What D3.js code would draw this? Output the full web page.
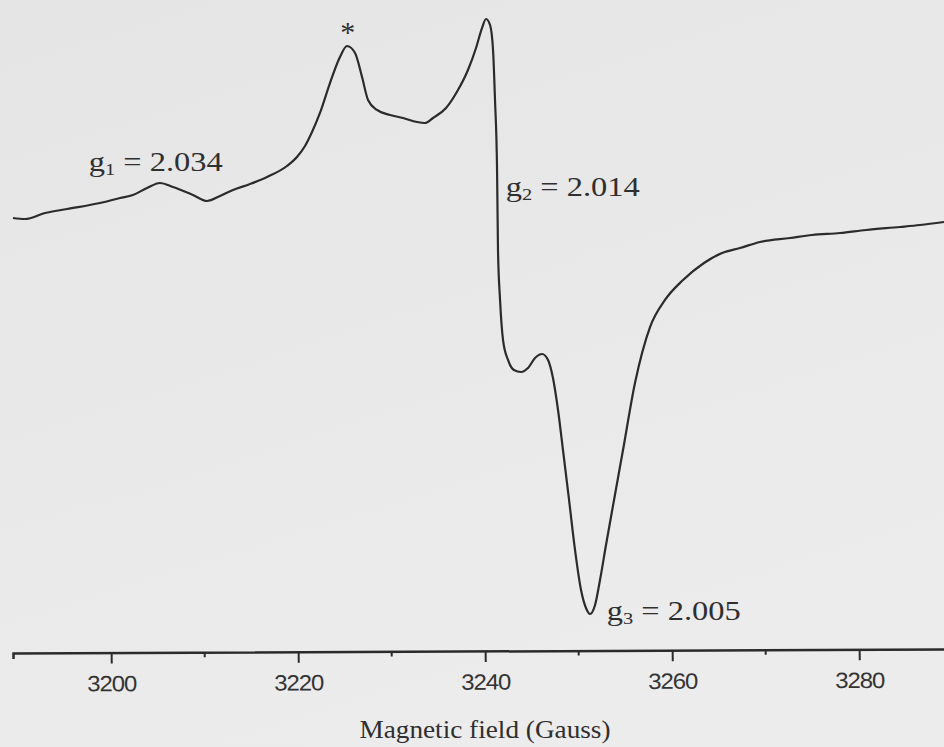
<!DOCTYPE html>
<html>
<head>
<meta charset="utf-8">
<script src="https://cdn.jsdelivr.net/npm/d3@7"></script>
<style>
  html, body { margin: 0; padding: 0; background: #e8e8e8; }
  svg { display: block; }
</style>
</head>
<body>
<svg id="chart" width="944" height="747"></svg>
<script>
// EPR spectrum: magnetic field (G) vs first-derivative signal (arbitrary units)
const field = [
  3189.50, 3190.78, 3192.92, 3195.28, 3198.80, 3200.94, 3202.33, 3203.83, 3205.22, 3206.61,
  3208.75, 3210.25, 3211.64, 3213.03, 3214.85, 3216.67, 3218.80, 3219.87, 3220.73, 3221.48,
  3222.33, 3223.40, 3224.47, 3225.22, 3226.08, 3226.83, 3227.47, 3228.43, 3229.82, 3231.21,
  3232.71, 3233.56, 3234.42, 3235.81, 3237.09, 3238.16, 3239.02, 3239.66, 3240.09, 3240.52,
  3240.84, 3241.05, 3241.27, 3241.37, 3241.59, 3241.91, 3242.44, 3243.08, 3243.83, 3244.58,
  3245.33, 3246.08, 3246.72, 3247.25, 3247.79, 3248.32, 3248.97, 3249.61, 3250.25, 3250.78,
  3251.21, 3251.75, 3252.28, 3252.92, 3253.78, 3254.74, 3256.02, 3257.63, 3259.23, 3261.16,
  3263.40, 3265.33, 3267.25, 3269.39, 3272.60, 3274.96, 3277.95, 3280.73, 3284.37, 3286.51,
  3289.07
];
const signal = [
  66.46, 66.31, 67.23, 67.85, 68.77, 69.54, 70.00, 71.08, 71.85, 71.23,
  70.00, 69.08, 69.85, 70.77, 71.69, 72.77, 74.46, 75.85, 77.54, 79.69,
  82.62, 87.23, 91.23, 92.92, 91.85, 88.15, 84.62, 83.08, 82.31, 81.85,
  81.23, 81.08, 81.85, 83.38, 86.15, 89.23, 92.62, 95.69, 97.08, 96.15,
  92.31, 84.62, 73.85, 61.54, 53.85, 47.69, 44.62, 43.08, 42.77, 43.38,
  44.92, 45.54, 44.62, 41.85, 36.92, 30.77, 23.08, 15.38, 9.23, 6.46,
  5.54, 6.92, 10.77, 16.15, 23.08, 30.77, 41.08, 49.69, 53.85, 56.92,
  59.54, 61.08, 61.85, 62.77, 63.38, 63.85, 64.15, 64.62, 65.08, 65.38,
  65.85
];

const majorTicks = [3200, 3220, 3240, 3260, 3280];
const minorTicks = [3210, 3230, 3250, 3270];
const axisTitle = "Magnetic field (Gauss)";

// g-value annotations
const gLabels = [
  { sub: "1", value: "= 2.034", field: 3197.6, signal: 73.7 },
  { sub: "2", value: "= 2.014", field: 3242.2, signal: 69.9 },
  { sub: "3", value: "= 2.005", field: 3253.0, signal: 4.6 }
];
const starLabel = { text: "*", field: 3225.3, signal: 93.5 };

const svg = d3.select("#chart");
const W = 944, H = 747;

const x = d3.scaleLinear().domain([3189.5, 3290]).range([13, 952.7]);
const y = d3.scaleLinear().domain([0, 100]).range([650, 0]);

const serif = "'Liberation Serif', 'Times New Roman', serif";
const sans = "'Liberation Sans', Arial, sans-serif";
const ink = "#2b2b2b";

// page tone
const defs = svg.append("defs");
const grad = defs.append("linearGradient").attr("id", "page")
  .attr("x1", 0).attr("y1", 0).attr("x2", 0.4).attr("y2", 1);
grad.append("stop").attr("offset", 0).attr("stop-color", "#e5e5e5");
grad.append("stop").attr("offset", 1).attr("stop-color", "#ececec");
svg.append("rect").attr("width", W).attr("height", H).attr("fill", "url(#page)");

// spectrum trace
const pts = field.map((f, i) => [f, signal[i]]);
const line = d3.line()
  .x(d => x(d[0]))
  .y(d => y(d[1]))
  .curve(d3.curveMonotoneX);

svg.append("path")
  .datum(pts)
  .attr("d", line)
  .attr("fill", "none")
  .attr("stroke", ink)
  .attr("stroke-width", 2.2)
  .attr("stroke-linejoin", "round");

// x axis
const axisY = 651;
const axisG = svg.append("g")
  .attr("transform", `translate(0,${axisY}) rotate(-0.25, 480, 0)`);

axisG.call(d3.axisBottom(x)
  .tickValues(majorTicks)
  .tickSize(11)
  .tickSizeOuter(6)
  .tickPadding(12)
  .tickFormat(d3.format("d")));

axisG.select(".domain").attr("stroke", ink).attr("stroke-width", 2.5);
axisG.selectAll(".tick line").attr("stroke", ink).attr("stroke-width", 2);
axisG.selectAll(".tick text")
  .attr("fill", "#333")
  .attr("font-family", sans)
  .attr("font-size", 22)
  .attr("textLength", 49)
  .attr("lengthAdjust", "spacingAndGlyphs")
  .attr("letter-spacing", "-1");

axisG.selectAll(".minor")
  .data(minorTicks)
  .join("line")
  .attr("class", "minor")
  .attr("x1", d => x(d)).attr("x2", d => x(d))
  .attr("y1", 0).attr("y2", 5)
  .attr("stroke", ink).attr("stroke-width", 2);

// axis title
svg.append("text")
  .attr("x", 485).attr("y", 738)
  .attr("text-anchor", "middle")
  .attr("font-family", serif)
  .attr("font-size", 25)
  .attr("fill", "#2f2f2f")
  .attr("textLength", 251)
  .attr("lengthAdjust", "spacingAndGlyphs")
  .text(axisTitle);

// g-value labels
gLabels.forEach(g => {
  const t = svg.append("text")
    .attr("x", x(g.field))
    .attr("y", y(g.signal))
    .attr("font-family", serif)
    .attr("font-size", 27)
    .attr("fill", "#2f2f2f")
    .attr("textLength", 134)
    .attr("lengthAdjust", "spacingAndGlyphs");
  t.append("tspan").text("g");
  t.append("tspan").attr("font-size", 17).attr("dy", 4).text(g.sub);
  t.append("tspan").attr("dy", -4).text(" " + g.value);
});

svg.append("text")
  .attr("x", x(starLabel.field))
  .attr("y", y(starLabel.signal))
  .attr("text-anchor", "middle")
  .attr("font-family", serif)
  .attr("font-size", 30)
  .attr("fill", "#2f2f2f")
  .text(starLabel.text);
</script>
</body>
</html>
